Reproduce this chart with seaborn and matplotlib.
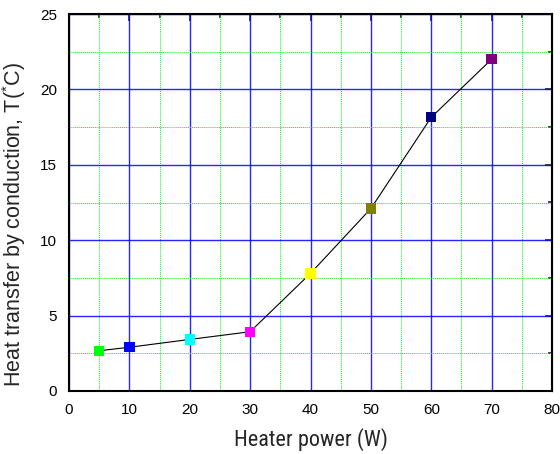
import matplotlib
matplotlib.use("Agg")
import matplotlib.pyplot as plt
import seaborn as sns
import pandas as pd
from matplotlib.ticker import MultipleLocator

power = [5, 10, 20, 30, 40, 50, 60, 70]
temp = [2.67, 2.9, 3.42, 3.93, 7.8, 12.1, 18.15, 22.0]
colors = ["#00ff00", "#0000ff", "#00ffff", "#ff00ff", "#ffff00", "#808000", "#000080", "#800080"]
x_label = "Heater power (W)"
y_label = "Heat transfer by conduction, T($^{*}$C)"

df = pd.DataFrame({"power": power, "temp": temp, "idx": [str(i) for i in range(len(power))]})

sns.set_style("white")
plt.rcParams["font.family"] = ["Liberation Sans", "DejaVu Sans"]
plt.rcParams["mathtext.fontset"] = "custom"
plt.rcParams["mathtext.rm"] = "Liberation Sans"
plt.rcParams["mathtext.it"] = "Liberation Sans"
xlabel_family = ["Roboto Condensed", "Archivo Narrow", "Liberation Sans"]

fig = plt.figure(figsize=(5.6, 4.54), dpi=100)
ax = fig.add_axes([69/560, 1 - 391/454, (552 - 69)/560, (391 - 14)/454])

sns.lineplot(data=df, x="power", y="temp", color="black", linewidth=0.8, ax=ax, zorder=3, sort=False)
sns.scatterplot(data=df, x="power", y="temp", hue="idx", palette=colors, marker="s", s=55,
                edgecolor="none", legend=False, ax=ax, zorder=4)

ax.set_xlim(0, 80)
ax.set_ylim(0, 25)
ax.xaxis.set_major_locator(MultipleLocator(10))
ax.xaxis.set_minor_locator(MultipleLocator(5))
ax.yaxis.set_major_locator(MultipleLocator(5))
ax.yaxis.set_minor_locator(MultipleLocator(2.5))

ax.grid(which="major", color="#0000ff", linewidth=1.0, linestyle="-", alpha=0.85)
ax.grid(which="minor", color="#00ff00", linewidth=0.7, linestyle=(0, (1, 1)))
ax.set_axisbelow(True)

for sp in ax.spines.values():
    sp.set_color("black")
    sp.set_linewidth(1.5)
    sp.set_visible(True)

ax.tick_params(which="both", direction="out", top=False, right=False, colors="black",
               labelsize=11, width=1.2)
ax.tick_params(which="major", length=5)
ax.tick_params(which="minor", length=3)

ax_top = ax.secondary_xaxis("top")
ax_top.xaxis.set_major_locator(MultipleLocator(10))
ax_top.xaxis.set_minor_locator(MultipleLocator(5))
ax_top.tick_params(which="both", direction="in", labeltop=False, width=1.2)
ax_top.tick_params(which="major", length=5)
ax_top.tick_params(which="minor", length=3)
ax_right = ax.secondary_yaxis("right")
ax_right.yaxis.set_major_locator(MultipleLocator(5))
ax_right.yaxis.set_minor_locator(MultipleLocator(2.5))
ax_right.tick_params(which="both", direction="in", labelright=False, width=1.2)
ax_right.tick_params(which="major", length=5)
ax_right.tick_params(which="minor", length=3)

ax.set_xlabel(x_label, fontsize=16, labelpad=8, family=xlabel_family)
ax.set_ylabel(y_label, fontsize=15.5)
ax.yaxis.set_label_coords((28 - 69) / 483, (391 - 224) / 377)

fig.savefig("out.png", dpi=100)
